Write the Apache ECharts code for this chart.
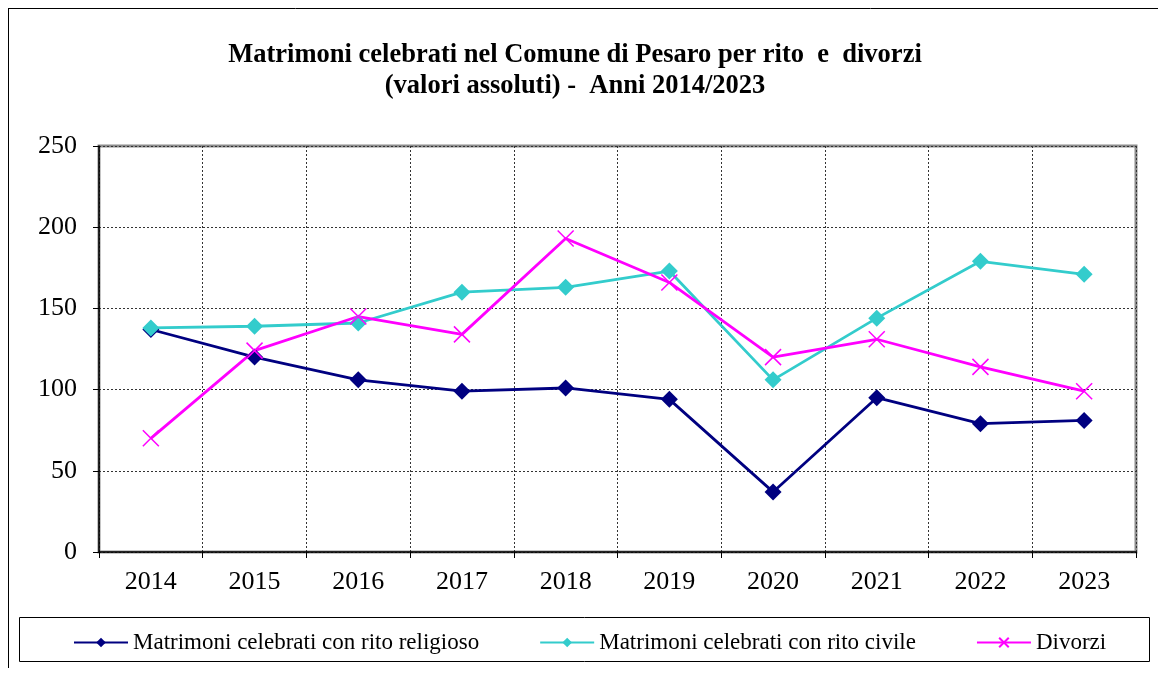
<!DOCTYPE html>
<html>
<head>
<meta charset="utf-8">
<script src="https://cdn.jsdelivr.net/npm/echarts@6/dist/echarts.min.js"></script>
<style>
  html, body { margin: 0; padding: 0; background: #fff; }
  #chart { width: 1158px; height: 675px; }
</style>
</head>
<body>
<div id="chart"></div>
<script>
var years = ['2014', '2015', '2016', '2017', '2018', '2019', '2020', '2021', '2022', '2023'];
var religioso = [137, 120, 106, 99, 101, 94, 37, 95, 79, 81];
var civile = [138, 139, 141, 160, 163, 173, 106, 144, 179, 171];
var divorzi = [70, 124, 145, 134, 193, 166, 120, 131, 114, 99];

var serif = '"Liberation Serif", "Times New Roman", serif';
var crossPath = 'path://M0,0L10,10M10,0L0,10';

var chart = echarts.init(document.getElementById('chart'));

chart.setOption({
  animation: false,
  backgroundColor: '#fff',
  title: {
    text: 'Matrimoni celebrati nel Comune di Pesaro per rito  e  divorzi\n(valori assoluti) -  Anni 2014/2023',
    left: 570,
    top: 35,
    textAlign: 'center',
    textStyle: {
      fontFamily: serif,
      fontSize: 26.5,
      fontWeight: 'bold',
      color: '#000',
      lineHeight: 31
    }
  },
  graphic: [
    { type: 'line', shape: { x1: 8.5, y1: 8, x2: 8.5, y2: 668 }, style: { stroke: '#000', lineWidth: 1 } },
    { type: 'line', shape: { x1: 8, y1: 8.5, x2: 1158, y2: 8.5 }, style: { stroke: '#000', lineWidth: 1 } },
    { type: 'rect', shape: { x: 19.5, y: 617.5, width: 1130, height: 44 }, style: { fill: 'none', stroke: '#000', lineWidth: 1 }, z: -1 }
  ],
  legend: {
    top: 626,
    left: 68,
    itemGap: 60,
    itemWidth: 54,
    itemHeight: 12,
    textStyle: { fontFamily: serif, fontSize: 23, color: '#000' },
    data: ['Matrimoni celebrati con rito religioso', 'Matrimoni celebrati con rito civile', 'Divorzi']
  },
  grid: {
    left: 99,
    right: 22,
    top: 146,
    bottom: 123,
    show: true,
    borderColor: '#8c8c8c',
    borderWidth: 3
  },
  xAxis: {
    type: 'category',
    data: years,
    boundaryGap: true,
    axisLine: { lineStyle: { color: '#000', width: 1.5 } },
    axisTick: { show: true, length: 6, lineStyle: { color: '#000' } },
    axisLabel: { fontFamily: serif, fontSize: 26, color: '#000', margin: 17 },
    splitLine: { show: true, lineStyle: { color: '#333', type: [2, 2], width: 1 } }
  },
  yAxis: {
    type: 'value',
    min: 0,
    max: 250,
    interval: 50,
    axisLine: { show: true, lineStyle: { color: '#000', width: 1.5 } },
    axisTick: { show: true, length: 6, lineStyle: { color: '#000' } },
    axisLabel: { fontFamily: serif, fontSize: 26, color: '#000', margin: 22 },
    splitLine: { show: true, lineStyle: { color: '#333', type: [2, 2], width: 1 } }
  },
  series: [
    {
      name: 'Matrimoni celebrati con rito religioso',
      type: 'line',
      data: religioso,
      symbol: 'diamond',
      symbolSize: 17,
      lineStyle: { color: '#000080', width: 2.8 },
      itemStyle: { color: '#000080' }
    },
    {
      name: 'Matrimoni celebrati con rito civile',
      type: 'line',
      data: civile,
      symbol: 'diamond',
      symbolSize: 17,
      lineStyle: { color: '#33CCCC', width: 2.8 },
      itemStyle: { color: '#33CCCC' }
    },
    {
      name: 'Divorzi',
      type: 'line',
      data: divorzi,
      symbol: crossPath,
      symbolSize: 16,
      lineStyle: { color: '#FF00FF', width: 2.8 },
      itemStyle: { color: 'none', borderColor: '#FF00FF', borderWidth: 1.5 }
    }
  ]
});
</script>
</body>
</html>
